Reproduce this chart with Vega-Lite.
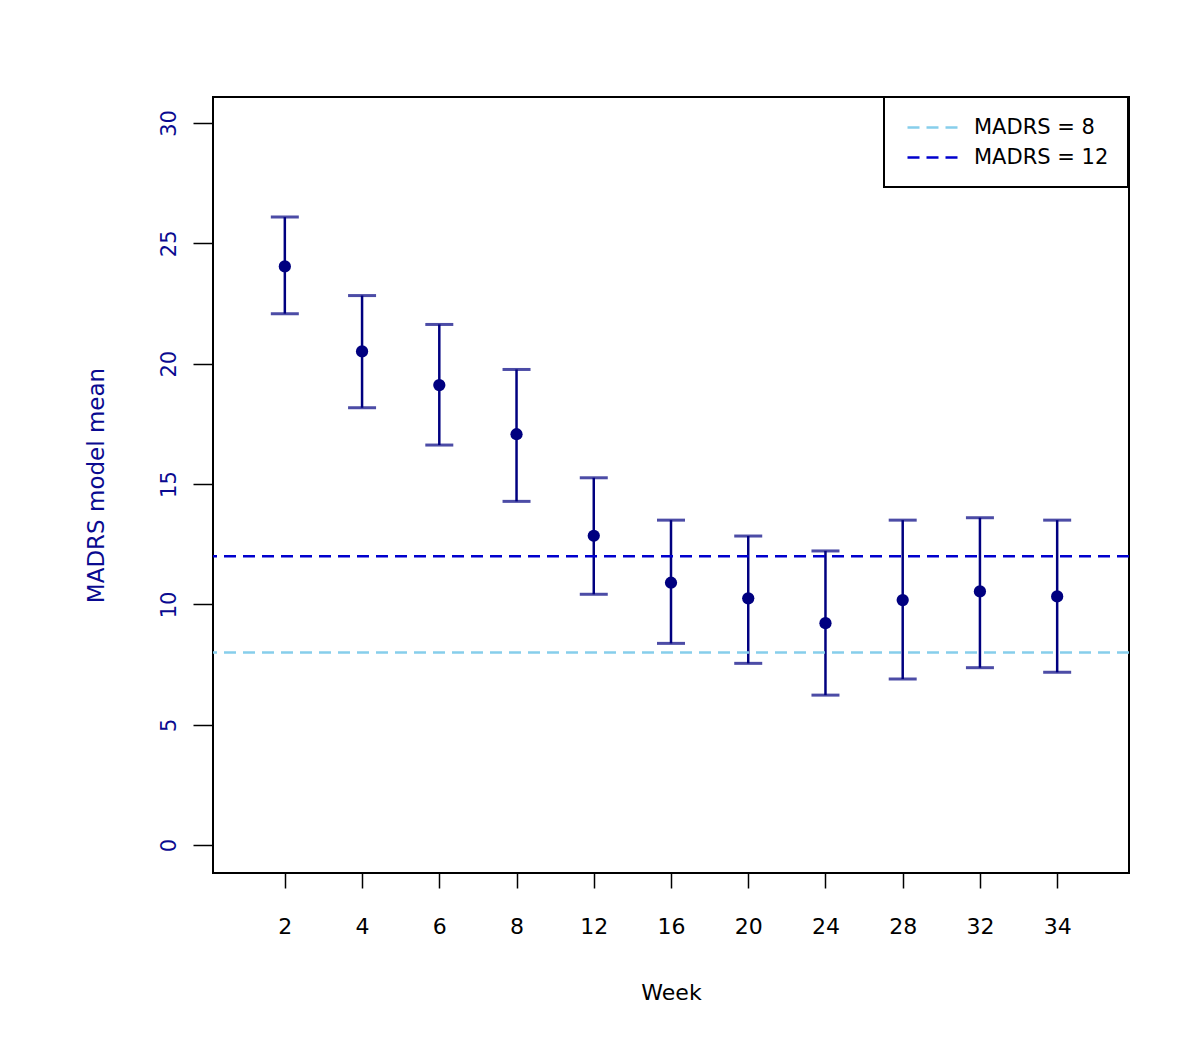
{
  "$schema": "https://vega.github.io/schema/vega-lite/v6.json",
  "width": 916,
  "height": 776,
  "autosize": {"type": "none"},
  "padding": {"left": 213, "top": 97, "right": 71, "bottom": 165},
  "background": "white",
  "config": {
    "font": "DejaVu Sans",
    "view": {"stroke": "black", "strokeWidth": 2},
    "axis": {"domain": false, "grid": false, "tickColor": "black", "tickWidth": 1.5, "labelFont": "DejaVu Sans", "titleFont": "DejaVu Sans", "titleFontWeight": "normal"},
    "legend": {"strokeWidth": 2}
  },
  "datasets": {
    "means": [
      {"week": "2", "mean": 24.04, "lower": 22.08, "upper": 26.09},
      {"week": "4", "mean": 20.51, "lower": 18.17, "upper": 22.83},
      {"week": "6", "mean": 19.11, "lower": 16.62, "upper": 21.63},
      {"week": "8", "mean": 17.07, "lower": 14.28, "upper": 19.76},
      {"week": "12", "mean": 12.85, "lower": 10.42, "upper": 15.26},
      {"week": "16", "mean": 10.90, "lower": 8.38, "upper": 13.50},
      {"week": "20", "mean": 10.25, "lower": 7.55, "upper": 12.84},
      {"week": "24", "mean": 9.22, "lower": 6.23, "upper": 12.22},
      {"week": "28", "mean": 10.18, "lower": 6.90, "upper": 13.50},
      {"week": "32", "mean": 10.54, "lower": 7.37, "upper": 13.60},
      {"week": "34", "mean": 10.33, "lower": 7.18, "upper": 13.50}
    ],
    "thresholds": [
      {"threshold": 8, "label": "MADRS = 8"},
      {"threshold": 12, "label": "MADRS = 12"}
    ]
  },
  "layer": [
    {
      "data": {"name": "means"},
      "mark": {"type": "rule", "color": "#000080", "strokeWidth": 2.5},
      "encoding": {
        "x": {
          "field": "week", "type": "ordinal",
          "sort": ["2", "4", "6", "8", "12", "16", "20", "24", "28", "32", "34"],
          "scale": {"type": "point", "padding": 0.93},
          "axis": {"title": "Week", "labelAngle": 0, "tickSize": 15, "labelPadding": 28, "labelFontSize": 22, "labelColor": "black", "titleFontSize": 22, "titleColor": "black", "titlePadding": 45}
        },
        "y": {
          "field": "lower", "type": "quantitative",
          "scale": {"domain": [-1.16, 31.08], "nice": false, "zero": false},
          "axis": {"title": "MADRS model mean", "values": [0, 5, 10, 15, 20, 25, 30], "tickSize": 20, "labelAngle": 270, "labelPadding": 14, "labelFontSize": 21, "labelColor": "#0a0a90", "titleFontSize": 23, "titleColor": "#0a0a90", "titlePadding": 50}
        },
        "y2": {"field": "upper"}
      }
    },
    {
      "data": {"name": "means"},
      "mark": {"type": "tick", "color": "#000080", "size": 28, "thickness": 3, "orient": "horizontal"},
      "encoding": {
        "x": {"field": "week", "type": "ordinal", "sort": ["2", "4", "6", "8", "12", "16", "20", "24", "28", "32", "34"]},
        "y": {"field": "lower", "type": "quantitative"}
      }
    },
    {
      "data": {"name": "means"},
      "mark": {"type": "tick", "color": "#000080", "size": 28, "thickness": 3, "orient": "horizontal"},
      "encoding": {
        "x": {"field": "week", "type": "ordinal", "sort": ["2", "4", "6", "8", "12", "16", "20", "24", "28", "32", "34"]},
        "y": {"field": "upper", "type": "quantitative"}
      }
    },
    {
      "data": {"name": "means"},
      "mark": {"type": "circle", "color": "#000080", "opacity": 1, "size": 150},
      "encoding": {
        "x": {"field": "week", "type": "ordinal", "sort": ["2", "4", "6", "8", "12", "16", "20", "24", "28", "32", "34"]},
        "y": {"field": "mean", "type": "quantitative"}
      }
    },
    {
      "data": {"name": "thresholds"},
      "mark": {"type": "rule", "strokeWidth": 2.5, "strokeDash": [12, 7]},
      "encoding": {
        "y": {"field": "threshold", "type": "quantitative"},
        "color": {
          "field": "label", "type": "nominal",
          "scale": {"domain": ["MADRS = 8", "MADRS = 12"], "range": ["#87CEEB", "#0000CD"]},
          "legend": {
            "title": null, "orient": "none", "legendX": 671, "legendY": 0,
            "symbolType": "M-0.7,0H4.3", "symbolSize": 400, "symbolStrokeWidth": 2.5, "symbolDash": [12, 7],
            "labelFontSize": 21, "labelFont": "DejaVu Sans", "labelColor": "black", "labelOffset": 48,
            "rowPadding": 8, "padding": 19,
            "strokeColor": "black", "fillColor": "white"
          }
        }
      }
    }
  ]
}
